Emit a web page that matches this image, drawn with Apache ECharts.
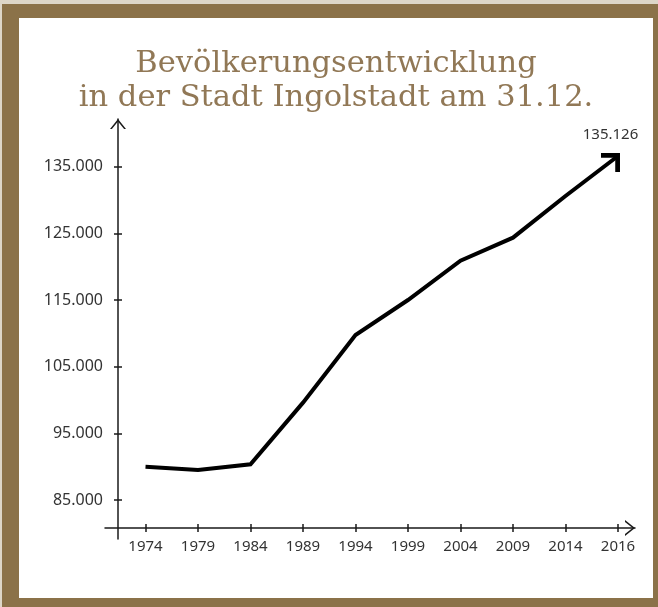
<!DOCTYPE html>
<html><head><meta charset="utf-8">
<script src="https://cdn.jsdelivr.net/npm/echarts@6/dist/echarts.min.js"></script>
<style>
html,body{margin:0;padding:0;background:#ddd6c8;width:658px;height:607px;overflow:hidden}
#frame{position:absolute;left:2px;top:4px;width:680px;height:630px;background:#8b7249}
#panel{position:absolute;left:19px;top:18px;width:634px;height:580px;background:#ffffff}
#main{position:absolute;left:0;top:0;width:658px;height:607px}
</style></head><body>
<div id="frame"></div><div id="panel"></div><div id="main"></div>
<script>
// ---- data ----
const titleLines = ['Bevölkerungsentwicklung', 'in der Stadt Ingolstadt am 31.12.'];
const years = ['1974', '1979', '1984', '1989', '1994', '1999', '2004', '2009', '2014', '2016'];
const population = [90000, 89500, 90350, 99600, 109750, 115000, 120900, 124350, 130600, 136600];
const yTickValues = [85000, 95000, 105000, 115000, 125000, 135000];
const latestReported = 135126;

// ---- helpers ----
const fmt = v => String(v).replace(/\B(?=(\d{3})+(?!\d))/g, '.');
const xIdx = years.map((_, i) => i);
const axisChevron = 'path://M0,10 L8,0 L16,10 L14.1,10 L8,2.4 L1.9,10 Z';
const lineChevron = 'path://M0,0 L20,0 L20,20 L15,20 L15,5 L0,5 Z';
const axisColor = '#1a1a1a';
const labelFont = 'Noto Sans';

const last = population.length - 1;
const seriesData = population.map((v, i) => {
  if (i !== last) return [i, v];
  return {
    value: [i, v],
    symbol: lineChevron,
    symbolSize: 19,
    symbolKeepAspect: true,
    symbolOffset: [-7.5, 6.5],
    itemStyle: { color: '#000' },
    label: {
      show: true, position: 'top', distance: 11,
      formatter: () => fmt(latestReported),
      fontFamily: labelFont, fontSize: 15, color: '#333'
    }
  };
});

const xBase = {
  type: 'value', min: -0.7714, max: 9.324, position: 'bottom', offset: -11, gridIndex: 0,
  splitLine: { show: false }
};
const yBase = {
  type: 'value', min: 79150, max: 142150, position: 'left', offset: -13, gridIndex: 0,
  splitLine: { show: false }
};

const chart = echarts.init(document.getElementById('main'), null, { renderer: 'canvas' });
chart.setOption({
  animation: false,
  backgroundColor: 'transparent',
  title: {
    text: titleLines.join('\n'),
    left: 336, textAlign: 'center', top: 47, padding: 0,
    textStyle: { fontFamily: 'DejaVu Serif', fontSize: 30.5, lineHeight: 34, fontWeight: 'normal', color: '#917856' }
  },
  grid: { left: 105, top: 119, width: 530, height: 420, containLabel: false },
  xAxis: [
    Object.assign({}, xBase, {
      axisLine: { show: true, onZero: false, symbol: ['none', axisChevron], symbolSize: [16, 10], symbolOffset: [0, -5],
        lineStyle: { color: axisColor, width: 1.5 } },
      axisTick: { show: true, inside: false, length: 4, customValues: xIdx, lineStyle: { color: axisColor, width: 1.5 } },
      axisLabel: { show: true, customValues: xIdx, formatter: v => years[Math.round(v)], margin: 11,
        fontFamily: labelFont, fontSize: 15, color: '#333' }
    }),
    Object.assign({}, xBase, {
      axisLine: { show: false, onZero: false },
      axisTick: { show: true, inside: true, length: 4, customValues: xIdx, lineStyle: { color: axisColor, width: 1.5 } },
      axisLabel: { show: false }
    })
  ],
  yAxis: [
    Object.assign({}, yBase, {
      axisLine: { show: true, onZero: false, symbol: ['none', axisChevron], symbolSize: [16, 10], symbolOffset: [0, -5],
        lineStyle: { color: axisColor, width: 1.5 } },
      axisTick: { show: true, inside: false, length: 4, customValues: yTickValues, lineStyle: { color: axisColor, width: 1.5 } },
      axisLabel: { show: true, customValues: yTickValues, formatter: v => fmt(v), margin: 15,
        fontFamily: labelFont, fontSize: 16, color: '#333' }
    }),
    Object.assign({}, yBase, {
      axisLine: { show: false, onZero: false },
      axisTick: { show: true, inside: true, length: 4, customValues: yTickValues, lineStyle: { color: axisColor, width: 1.5 } },
      axisLabel: { show: false }
    })
  ],
  series: [{
    type: 'line',
    xAxisIndex: 0, yAxisIndex: 0,
    data: seriesData,
    symbol: 'none',
    showSymbol: true,
    lineStyle: { color: '#000', width: 4, join: 'miter' },
    z: 5
  }]
});
</script>
</body></html>
